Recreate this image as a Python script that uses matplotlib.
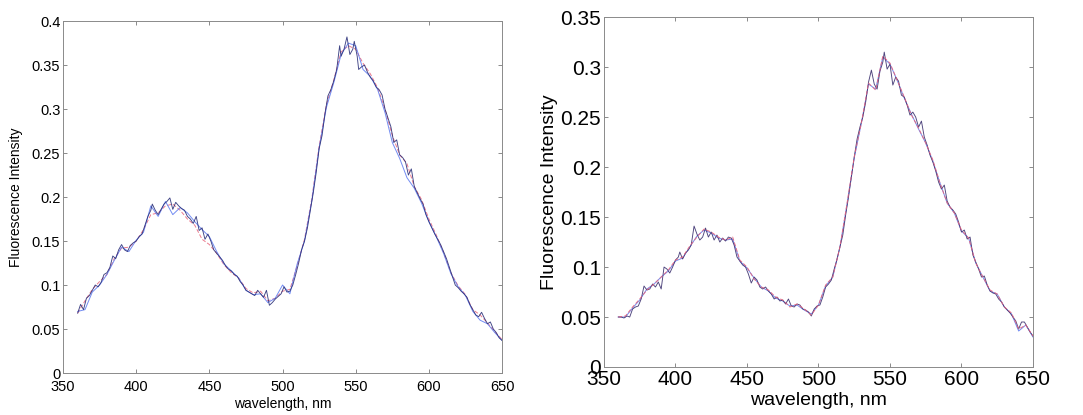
import matplotlib
matplotlib.use("Agg")
import matplotlib.pyplot as plt
from matplotlib.ticker import FuncFormatter, MultipleLocator

plt.rcParams['font.family'] = ['Liberation Sans', 'DejaVu Sans']

# ---- Sample A (left panel) ----
wl_a_main = [360, 362, 364, 366, 368, 370, 372, 374, 376, 378, 380, 382, 384, 386, 388, 390,
             392, 394, 396, 398, 400, 402, 404, 406, 408, 410, 411, 413, 415, 417, 419, 421,
             423, 425, 427, 429, 431, 433, 435, 437, 439, 441, 443, 445, 447, 449, 451, 453,
             455, 457, 459, 461, 463, 465, 467, 469, 471, 473, 475, 477, 479, 481, 483, 485,
             487, 489, 491, 493, 495, 497, 499, 501, 503, 505, 507, 509, 511, 513, 515, 517,
             519, 521, 523, 525, 527, 529, 531, 533, 535, 537, 539, 540, 542, 544, 546, 548,
             549, 551, 552, 554, 556, 558, 560, 562, 564, 566, 568, 570, 572, 574, 576, 578,
             580, 582, 584, 586, 588, 590, 592, 594, 596, 598, 600, 602, 604, 606, 608, 610,
             612, 614, 616, 618, 620, 622, 624, 626, 628, 630, 632, 634, 636, 638, 640, 642,
             644, 646, 648, 650]
fl_a_main = [.068, .078, .072, .085, .088, .094, .100, .098, .103, .112, .114, .120, .133, .130, .140, .146,
             .140, .138, .145, .148, .150, .155, .158, .168, .178, .185, .192, .185, .180, .186, .192, .195,
             .199, .186, .194, .190, .187, .185, .178, .175, .170, .178, .162, .165, .152, .158, .150, .140,
             .136, .132, .128, .122, .118, .116, .112, .110, .104, .100, .094, .092, .090, .088, .094, .090,
             .086, .094, .077, .080, .084, .087, .090, .098, .092, .093, .100, .112, .125, .140, .150, .165,
             .185, .205, .228, .255, .270, .295, .315, .322, .332, .345, .372, .360, .368, .382, .362, .368,
             .377, .360, .345, .348, .350, .342, .336, .332, .325, .322, .316, .300, .290, .280, .262, .265,
             .248, .245, .240, .225, .232, .212, .205, .198, .192, .180, .172, .165, .158, .152, .146, .138,
             .130, .120, .110, .100, .097, .093, .090, .086, .078, .072, .066, .064, .069, .062, .056, .058,
             .050, .046, .040, .037]

wl_a_rep = list(range(360, 651, 5))
fl_a_blue = [.070, .072, .092, .100, .112, .128, .143, .138, .151, .160, .190, .178, .195, .180, .188,
             .182, .172, .163, .155, .138, .124, .116, .108, .094, .089, .090, .080, .085, .100, .090,
             .124, .150, .196, .256, .302, .330, .362, .375, .372, .345, .337, .322, .296, .262, .244,
             .222, .210, .193, .172, .155, .136, .113, .098, .088, .070, .060, .056, .046, .037]
fl_a_red = [.068, .082, .095, .104, .112, .130, .142, .143, .150, .163, .180, .182, .190, .192, .185,
            .175, .168, .152, .146, .136, .123, .114, .108, .096, .091, .093, .082, .085, .093, .095,
            .122, .152, .198, .258, .305, .333, .365, .372, .368, .352, .340, .324, .300, .270, .248,
            .238, .212, .197, .175, .157, .137, .114, .099, .089, .072, .066, .057, .047, .038]

# ---- Sample B (right panel) ----
wl_b_main = [360, 362, 364, 366, 368, 370, 372, 374, 376, 378, 380, 382, 384, 386, 388, 390,
             392, 394, 396, 398, 400, 402, 403, 405, 407, 409, 411, 413, 415, 417, 419, 421,
             423, 425, 427, 429, 431, 433, 435, 437, 439, 441, 443, 445, 447, 449, 451, 453,
             455, 457, 459, 461, 463, 465, 467, 469, 471, 473, 475, 477, 479, 481, 483, 485,
             487, 489, 491, 493, 495, 497, 499, 501, 503, 505, 507, 509, 511, 513, 515, 517,
             519, 521, 523, 525, 527, 529, 531, 533, 535, 537, 539, 541, 543, 545, 546, 548,
             550, 552, 554, 556, 558, 560, 562, 564, 566, 568, 570, 572, 574, 576, 578, 580,
             582, 584, 586, 588, 590, 592, 594, 596, 598, 600, 602, 604, 606, 608, 610, 612,
             614, 616, 618, 620, 622, 624, 626, 628, 630, 632, 634, 636, 638, 640, 642, 644,
             646, 648, 650]
fl_b_main = [.050, .050, .049, .051, .050, .058, .060, .061, .068, .081, .077, .078, .083, .080, .085, .078,
             .100, .098, .094, .100, .107, .110, .115, .108, .114, .117, .122, .141, .133, .127, .130, .139,
             .130, .135, .127, .132, .125, .129, .126, .130, .129, .122, .110, .106, .102, .100, .093, .084,
             .090, .087, .080, .078, .080, .076, .073, .068, .070, .066, .067, .063, .068, .061, .060, .063,
             .062, .058, .057, .055, .051, .058, .061, .062, .070, .080, .083, .087, .098, .108, .120, .132,
             .152, .170, .190, .210, .228, .240, .250, .265, .285, .297, .283, .278, .296, .305, .315, .298,
             .303, .282, .290, .286, .272, .270, .262, .252, .255, .250, .240, .246, .230, .222, .212, .205,
             .196, .185, .178, .182, .166, .160, .157, .153, .145, .135, .137, .128, .130, .112, .105, .098,
             .090, .091, .082, .076, .074, .073, .068, .065, .060, .057, .054, .050, .046, .038, .045, .045,
             .040, .035, .031]

wl_b_rep = list(range(360, 651, 5))
fl_b_blue = [.050, .050, .059, .067, .078, .083, .090, .096, .106, .109, .120, .131, .137, .134, .129,
             .127, .128, .106, .099, .089, .080, .076, .069, .066, .061, .062, .057, .053, .062, .081,
             .090, .120, .163, .209, .244, .283, .278, .310, .303, .287, .269, .253, .238, .224, .206,
             .184, .164, .154, .136, .129, .104, .090, .076, .073, .060, .053, .036, .042, .030]
fl_b_red = [.050, .051, .060, .068, .077, .083, .090, .097, .107, .110, .121, .130, .138, .135, .130,
            .127, .130, .107, .100, .088, .080, .077, .070, .067, .060, .063, .058, .052, .062, .082,
            .090, .120, .164, .210, .244, .284, .277, .311, .304, .287, .270, .252, .239, .224, .207,
            .184, .164, .154, .137, .129, .104, .090, .077, .073, .060, .054, .038, .042, .031]

x_ticks = [350, 400, 450, 500, 550, 600, 650]


def style_axes(ax, ymax, ystep, tick_size, label_size, xpad, xlabelpad, ylabelpad):
    ax.set_xlim(350, 650)
    ax.set_ylim(0, ymax)
    ax.set_xticks(x_ticks)
    ax.yaxis.set_major_locator(MultipleLocator(ystep))
    ax.yaxis.set_major_formatter(FuncFormatter(lambda v, p: f"{v:g}"))
    ax.tick_params(direction='in', top=True, right=True, length=3, width=0.6,
                   color='#777777', labelsize=tick_size, pad=2)
    ax.tick_params(axis='x', pad=xpad)
    for sp in ax.spines.values():
        sp.set_color('#8a8a8a')
        sp.set_linewidth(0.7)
    ax.set_xlabel('wavelength, nm', fontsize=label_size, labelpad=xlabelpad)
    ax.set_ylabel('Fluorescence Intensity', fontsize=label_size, labelpad=ylabelpad)


fig = plt.figure(figsize=(10.83, 4.15), dpi=100)
ax1 = fig.add_axes([0.0582, 0.1012, 0.4054, 0.848])
ax2 = fig.add_axes([0.5577, 0.1157, 0.3961, 0.843])

ax1.plot(wl_a_rep, fl_a_red, color='#e8647a', lw=0.7, ls=(0, (4, 2)), alpha=0.85)
ax1.plot(wl_a_rep, fl_a_blue, color='#5a78f0', lw=0.7, alpha=0.85)
ax1.plot(wl_a_main, fl_a_main, color='#2a2f78', lw=0.65, alpha=0.9)
style_axes(ax1, 0.4, 0.05, 10.5, 10, 5, 2, 6)

ax2.plot(wl_b_rep, fl_b_blue, color='#5a78f0', lw=0.7, alpha=0.85)
ax2.plot(wl_b_main, fl_b_main, color='#3a2f6e', lw=0.65, alpha=0.9)
ax2.plot(wl_b_rep, fl_b_red, color='#e8647a', lw=0.7, ls=(0, (4, 2)), alpha=0.9)
style_axes(ax2, 0.35, 0.05, 15, 14, 2.5, 2, 2)

fig.savefig('out.png', dpi=100)
